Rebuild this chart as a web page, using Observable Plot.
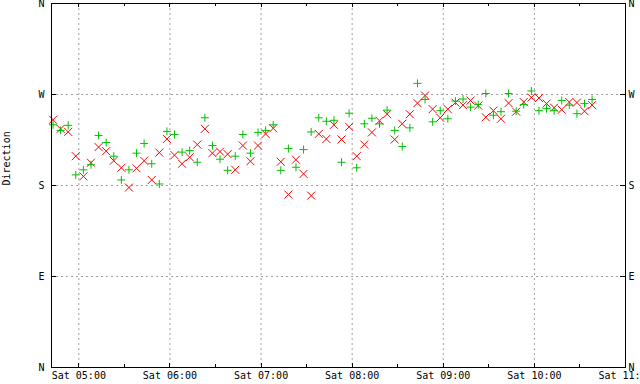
<!DOCTYPE html>
<html>
<head>
<meta charset="utf-8">
<script src="https://cdn.jsdelivr.net/npm/d3@7"></script>
<script src="https://cdn.jsdelivr.net/npm/@observablehq/plot@0.6"></script>
<style>
  html, body { margin: 0; padding: 0; background: #fff; }
  #chart svg { display: block; }
</style>
</head>
<body>
<div id="chart"></div>
<script>
// Sample times (Saturday), 5-minute readings
const times = [
  "04:43","04:48","04:53","04:58",
  "05:03","05:08","05:13","05:18","05:23","05:28","05:33","05:38","05:43","05:48","05:53","05:58",
  "06:03","06:08","06:13","06:18","06:23","06:28","06:33","06:38","06:43","06:48","06:53","06:58",
  "07:03","07:08","07:13","07:18","07:23","07:28","07:33","07:38","07:43","07:48","07:53","07:58",
  "08:03","08:08","08:13","08:18","08:23","08:28","08:33","08:38","08:43","08:48","08:53","08:58",
  "09:03","09:08","09:13","09:18","09:23","09:28","09:33","09:38","09:43","09:48","09:53","09:58",
  "10:03","10:08","10:13","10:18","10:23","10:28","10:33","10:38"
];
// Direction (degrees) series drawn with "x"
const dirX = [
  245,236,233,209,189,202.5,218,214,204.5,197.5,178,197,204.5,185.5,212.5,226,
  210,201.5,208,220.5,236,212,213.5,211,195.5,219.5,204,219.5,
  231,236.5,203.5,171,205.5,191.5,170,231,226,240,225.5,238,
  209,220.5,232.5,244,250.5,225.5,241,250.5,261.5,269,255.5,247,
  255.5,262,259.5,264,259,247.5,254,246,261.5,253,262.5,267,
  266.5,261,257,255,262.5,262,253.5,259.5
];
// Direction (degrees) series drawn with "+"
const dirPlus = [
  240,234.5,239.5,190.5,195.5,200.5,229.5,222.5,209,185.5,195.5,212,221.5,201.5,181.5,233.5,
  230.5,213,214.5,203,247,219.5,206,195,209,230.5,212,232.5,
  234.5,240,195,216.5,198,215.5,233,247,243.5,244.5,203,251.5,
  197.5,241,246.5,241,254.5,234.5,218.5,237,281,265,243,254,
  246,263.5,265.5,257.5,260,271,249.5,253,271,253.5,260,273.5,
  254,256,254,264,259.5,251,261,265
];
const hourTicks = ["05:00","06:00","07:00","08:00","09:00","10:00","11:00"];
const halfTicks = ["04:30","05:30","06:30","07:30","08:30","09:30","10:30"];
const dirTicks = [0, 90, 180, 270, 360];
const dirNames = ["N", "E", "S", "W", "N"];

const day = "2024-01-06";
const parse = d3.utcParse("%Y-%m-%d %H:%M");
const T = s => parse(day + " " + s);

const dataX = times.map((t, i) => ({time: T(t), dir: dirX[i]}));
const dataP = times.map((t, i) => ({time: T(t), dir: dirPlus[i]}));
const hours = hourTicks.map(T);
const halves = halfTicks.map(T);

const symTimes = {draw(ctx, size) { const r = Math.sqrt(size / Math.PI); ctx.moveTo(-r, -r); ctx.lineTo(r, r); ctx.moveTo(r, -r); ctx.lineTo(-r, r); }};
const symPlus = {draw(ctx, size) { const r = Math.sqrt(size / Math.PI); ctx.moveTo(-r, 0); ctx.lineTo(r, 0); ctx.moveTo(0, -r); ctx.lineTo(0, r); }};

const font = "'DejaVu Sans Mono', monospace";
const nameOf = d => dirNames[dirTicks.indexOf(d)];

const plot = Plot.plot({
  width: 640,
  height: 384,
  marginLeft: 51,
  marginRight: 15,
  marginTop: 3,
  marginBottom: 17,
  style: {fontFamily: font, fontSize: "10px", color: "black", background: "white"},
  x: {type: "utc", domain: [T("04:42"), T("11:00")], label: null},
  y: {domain: [0, 360], label: null},
  marks: [
    Plot.gridX(hours.slice(0, 6), {stroke: "#a0a0a0", strokeOpacity: 1, strokeDasharray: "2,3"}),
    Plot.gridY([90, 180, 270], {stroke: "#a0a0a0", strokeOpacity: 1, strokeDasharray: "2,3"}),
    Plot.dot(dataX, {x: "time", y: "dir", symbol: symTimes, r: 4, stroke: "#ff0000", strokeWidth: 1, fill: "none"}),
    Plot.dot(dataP, {x: "time", y: "dir", symbol: symPlus, r: 4, stroke: "#00c000", strokeWidth: 1, fill: "none"}),
    Plot.axisX(hours, {anchor: "bottom", label: null, tickSize: 0, tickPadding: 4, tickFormat: d3.utcFormat("%a %H:%M"), fontSize: 10}),
    Plot.axisY(dirTicks, {anchor: "left", label: null, tickSize: 0, tickPadding: 7, tickFormat: nameOf, fontSize: 10}),
    Plot.axisY(dirTicks, {anchor: "right", label: null, tickSize: 0, tickPadding: 3, tickFormat: nameOf, fontSize: 10}),
    Plot.text(["Direction"], {frameAnchor: "left", dx: -45, rotate: -90, fontSize: 10}),
    Plot.frame({stroke: "black"})
  ]
});

// inward tick marks, positioned through the plot's own scales
const sx = plot.scale("x"), sy = plot.scale("y");
const svg = d3.select(plot);
const g = svg.append("g").attr("stroke", "black").attr("stroke-width", 1).attr("shape-rendering", "crispEdges");
const yTop = sy.apply(360), yBot = sy.apply(0);
const xL = sx.apply(T("04:42")), xR = sx.apply(T("11:00"));
hours.forEach(h => {
  const x = Math.round(sx.apply(h)) + 0.5;
  g.append("line").attr("x1", x).attr("x2", x).attr("y1", yBot).attr("y2", yBot - 4);
  g.append("line").attr("x1", x).attr("x2", x).attr("y1", yTop).attr("y2", yTop + 4);
});
halves.forEach(h => {
  const x = Math.round(sx.apply(h)) + 0.5;
  if (x < xL || x > xR) return;
  g.append("line").attr("x1", x).attr("x2", x).attr("y1", yBot).attr("y2", yBot - 3);
  g.append("line").attr("x1", x).attr("x2", x).attr("y1", yTop).attr("y2", yTop + 3);
});
dirTicks.forEach(d => {
  const y = Math.round(sy.apply(d)) + 0.5;
  g.append("line").attr("x1", xL).attr("x2", xL + 5).attr("y1", y).attr("y2", y);
  g.append("line").attr("x1", xR).attr("x2", xR - 5).attr("y1", y).attr("y2", y);
});

document.getElementById("chart").append(plot);
</script>
</body>
</html>
